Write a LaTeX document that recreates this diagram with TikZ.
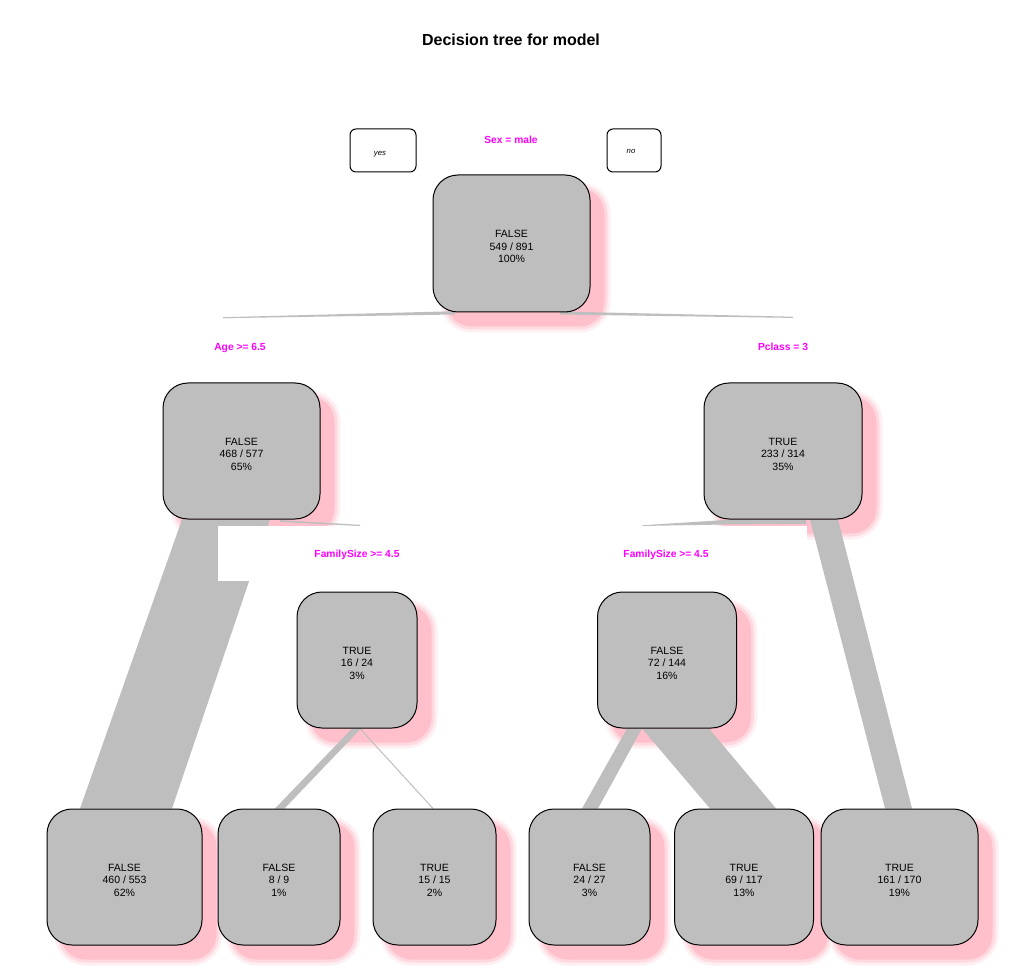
\documentclass[tikz,border=0pt]{standalone}
\usepackage{fontspec}
\setmainfont{Liberation Sans}
\usetikzlibrary{calc}
\definecolor{nodegray}{HTML}{BEBEBE}
\definecolor{brgray}{HTML}{BEBEBE}
\definecolor{shpink}{HTML}{FFC0CB}
\definecolor{labmag}{HTML}{FF00FF}
\pgfdeclarelayer{bg}
\pgfdeclarelayer{mid}
\pgfsetlayers{bg,mid,main}
\begin{document}
\begin{tikzpicture}[x=0.75pt,y=-0.75pt,
  tree/.style 2 args={draw=black, fill=nodegray, line width=0.75pt, rounded corners=18.75pt,
    minimum width=#1*0.75pt, minimum height=#2*0.75pt, inner sep=0pt, align=center,
    font=\fontsize{7.9}{9.4}\selectfont},
  keybox/.style 2 args={draw=black, fill=white, line width=0.75pt, rounded corners=4.5pt,
    minimum width=#1*0.75pt, minimum height=#2*0.75pt, inner sep=0pt},
  keytext/.style={font=\itshape\fontsize{5.8}{7}\selectfont, inner sep=0pt},
  splitlab/.style={text=labmag, font=\bfseries\fontsize{7.7}{9}\selectfont, inner sep=0pt},
  branch/.style={fill=brgray},
  thinbranch/.style={draw=brgray, line width=0.75pt},
  labbg/.style={fill=white}]
\useasboundingbox (0,0) rectangle (1024,980);
\begin{pgfonlayer}{bg}
\fill[white] (0,0) rectangle (1024,980);
\end{pgfonlayer}

% title and key
\node[font=\bfseries\fontsize{12}{14}\selectfont, inner sep=0pt] (title) at (511,40) {Decision tree for model};
\node[keybox={66}{43}] (yesbox) at (383,150.5) {};
\node[keytext] (yes) at (380,154.5) {yes};
\node[keybox={54}{43}] (nobox) at (634,150.5) {};
\node[keytext] (no) at (631,151.5) {no};

% tree nodes
\node[tree={157}{137}] (root) at (511.5,243.5) {\rule{0pt}{10pt}FALSE\\549 / 891\\100\%};
\node[tree={157}{136}] (n2) at (241.5,451) {\rule{0pt}{10pt}FALSE\\468 / 577\\65\%};
\node[tree={158}{136}] (n3) at (783,451) {\rule{0pt}{10pt}TRUE\\233 / 314\\35\%};
\node[tree={120}{136}] (n4) at (357,660) {\rule{0pt}{10pt}TRUE\\16 / 24\\3\%};
\node[tree={139}{136}] (n5) at (667,660) {\rule{0pt}{10pt}FALSE\\72 / 144\\16\%};
\node[tree={155}{136}] (b1) at (124.5,877) {\rule{0pt}{10pt}FALSE\\460 / 553\\62\%};
\node[tree={122}{136}] (b2) at (279,877) {\rule{0pt}{10pt}FALSE\\8 / 9\\1\%};
\node[tree={123}{136}] (b3) at (434.5,877) {\rule{0pt}{10pt}TRUE\\15 / 15\\2\%};
\node[tree={121}{136}] (b4) at (589.5,877) {\rule{0pt}{10pt}FALSE\\24 / 27\\3\%};
\node[tree={139}{136}] (b5) at (744,877) {\rule{0pt}{10pt}TRUE\\69 / 117\\13\%};
\node[tree={157}{136}] (b6) at (899.5,877) {\rule{0pt}{10pt}TRUE\\161 / 170\\19\%};

% split labels
\node[splitlab] (sex) at (511,139.5) {Sex = male};
\node[splitlab] (age) at (240,348) {Age >= 6.5};
\node[splitlab] (pcl) at (783,347) {Pclass = 3};
\node[splitlab] (famL) at (357,554.5) {FamilySize >= 4.5};
\node[splitlab] (famR) at (666,554.5) {FamilySize >= 4.5};

\coordinate (ageend) at (223,317.7);
\coordinate (pclend) at (793,317.3);
\coordinate (famLend) at (360,525.3);
\coordinate (famRend) at (642,525.6);

% shadows
\begin{pgfonlayer}{bg}
\foreach \n in {root,n2,n3,n4,n5,b1,b2,b3,b4,b5,b6}{
  \fill[shpink!25, rounded corners=23.25pt] ($(\n.south west)+(8,20)$) rectangle ($(\n.north east)+(20,8)$);
  \fill[shpink!60, rounded corners=21pt] ($(\n.south west)+(11,17)$) rectangle ($(\n.north east)+(17,11)$);
  \fill[shpink, rounded corners=18.75pt] ($(\n.south west)+(14,14)$) rectangle ($(\n.north east)+(14,14)$);
}
\end{pgfonlayer}

% branches
\begin{pgfonlayer}{mid}
\fill[branch] ($(ageend)+(0,-0.5)$) -- ($(root.south)+(-56.5,-1.3)$) -- ($(root.south)+(-56.5,2)$) -- ($(ageend)+(0,0.5)$) -- cycle;
\fill[branch] ($(root.south)+(48.5,-1)$) -- ($(pclend)+(0,-0.6)$) -- ($(pclend)+(0,0.6)$) -- ($(root.south)+(48.5,2)$) -- cycle;
\fill[branch] ($(n2.south)+(-59.5,0)$) -- ($(n2.south)+(28.5,0)$) -- ($(b1.north)+(47.5,0)$) -- ($(b1.north)+(-44.5,0)$) -- cycle;
\fill[branch] ($(n2.south)+(38.5,0.6)$) -- ($(famLend)+(0,-0.5)$) -- ($(famLend)+(0,0.7)$) -- ($(n2.south)+(38.5,2.4)$) -- cycle;
\fill[branch] ($(famRend)+(0,-0.3)$) -- ($(n3.south)+(-58,0.5)$) -- ($(n3.south)+(23,0.5)$) -- ($(n3.south)+(23,4.3)$) -- ($(n3.south)+(-58,5)$) -- ($(famRend)+(0,0.4)$) -- cycle;
\fill[branch] ($(n3.south)+(27,0)$) -- ($(n3.south)+(55,0)$) -- ($(b6.north)+(12.5,0)$) -- ($(b6.north)+(-14.5,0)$) -- cycle;
\fill[branch] ($(n4.south)+(-5,0)$) -- ($(n4.south)+(4,0)$) -- ($(b2.north)+(5.5,0)$) -- ($(b2.north)+(-4,0)$) -- cycle;
\draw[thinbranch] ($(n4.south)+(3,0)$) -- ($(b3.north)+(-1.5,0)$);
\fill[branch] ($(n5.south)+(-40,0)$) -- ($(n5.south)+(-25,0)$) -- ($(b4.north)+(8.5,0)$) -- ($(b4.north)+(-7.5,0)$) -- cycle;
\fill[branch] ($(n5.south)+(-25,0)$) -- ($(n5.south)+(42,0)$) -- ($(b5.north)+(32,0)$) -- ($(b5.north)+(-34,0)$) -- cycle;
% label backgrounds
\fill[labbg] (218,526) rectangle (360,581);
\fill[labbg] (642,526) rectangle (807,582);
\end{pgfonlayer}
\end{tikzpicture}
\end{document}
